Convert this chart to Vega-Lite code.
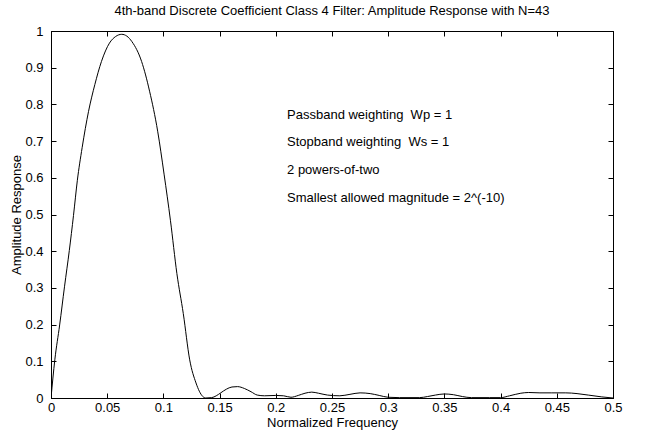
{
  "$schema": "https://vega.github.io/schema/vega-lite/v6.json",
  "autosize": {"type": "none"},
  "padding": {"left": 51, "top": 31, "right": 50, "bottom": 34},
  "width": 562,
  "height": 367,
  "background": "white",
  "config": {
    "font": "Liberation Sans",
    "view": {"stroke": "black", "strokeWidth": 1},
    "axis": {"grid": false, "domainColor": "black", "tickColor": "black", "labelColor": "black", "titleColor": "black", "labelFont": "Liberation Sans", "titleFont": "Liberation Sans", "labelFontSize": 13, "titleFontSize": 13, "titleFontWeight": "normal", "tickSize": -5, "domainWidth": 1, "tickWidth": 1}
  },
  "title": {"text": "4th-band Discrete Coefficient Class 4 Filter: Amplitude Response with N=43", "fontSize": 13, "fontWeight": "normal", "font": "Liberation Sans", "color": "black", "baseline": "alphabetic", "offset": 14, "dy": 17},
  "datasets": {
    "curve": [
      {"f":0,"a":0},{"f":0.0034,"a":0.104},{"f":0.0077,"a":0.199},{"f":0.012,"a":0.303},{"f":0.0163,"a":0.402},{"f":0.02,"a":0.497},{"f":0.0234,"a":0.592},{"f":0.0277,"a":0.682},{"f":0.0334,"a":0.781},{"f":0.039,"a":0.854},{"f":0.0449,"a":0.917},{"f":0.052,"a":0.967},{"f":0.0575,"a":0.985},{"f":0.0629,"a":0.991},{"f":0.0675,"a":0.986},{"f":0.072,"a":0.971},{"f":0.0806,"a":0.917},{"f":0.0877,"a":0.836},{"f":0.0949,"a":0.727},{"f":0.1006,"a":0.61},{"f":0.1063,"a":0.483},{"f":0.112,"a":0.339},{"f":0.1177,"a":0.23},{"f":0.1234,"a":0.104},{"f":0.129,"a":0.041},{"f":0.1349,"a":0.0045},{"f":0.1377,"a":0},{"f":0.143,"a":0.001},{"f":0.147,"a":0.006},{"f":0.151,"a":0.014},{"f":0.156,"a":0.024},{"f":0.161,"a":0.03},{"f":0.166,"a":0.031},{"f":0.172,"a":0.026},{"f":0.178,"a":0.017},{"f":0.1835,"a":0.008},{"f":0.19,"a":0.006},{"f":0.2,"a":0.007},{"f":0.207,"a":0.006},{"f":0.2135,"a":0.002},{"f":0.22,"a":0.007},{"f":0.226,"a":0.013},{"f":0.232,"a":0.016},{"f":0.238,"a":0.013},{"f":0.246,"a":0.008},{"f":0.257,"a":0.006},{"f":0.266,"a":0.01},{"f":0.275,"a":0.014},{"f":0.284,"a":0.012},{"f":0.292,"a":0.007},{"f":0.3,"a":0.002},{"f":0.31,"a":0.001},{"f":0.328,"a":0.001},{"f":0.335,"a":0.004},{"f":0.342,"a":0.008},{"f":0.35,"a":0.011},{"f":0.358,"a":0.009},{"f":0.366,"a":0.004},{"f":0.374,"a":0.001},{"f":0.39,"a":0.001},{"f":0.4,"a":0.001},{"f":0.408,"a":0.006},{"f":0.418,"a":0.013},{"f":0.425,"a":0.015},{"f":0.435,"a":0.014},{"f":0.445,"a":0.014},{"f":0.458,"a":0.014},{"f":0.468,"a":0.012},{"f":0.478,"a":0.008},{"f":0.49,"a":0.003},{"f":0.5,"a":0}
    ],
    "notes": [
      {"f":0.21,"a":0.771,"label":"Passband weighting\u00a0 Wp = 1"},
      {"f":0.21,"a":0.698,"label":"Stopband weighting\u00a0 Ws = 1"},
      {"f":0.21,"a":0.621,"label":"2 powers-of-two"},
      {"f":0.21,"a":0.545,"label":"Smallest allowed magnitude = 2^(-10)"}
    ]
  },
  "layer": [
    {
      "data": {"name": "curve"},
      "mark": {"type": "line", "color": "black", "strokeWidth": 1, "interpolate": "monotone", "clip": true},
      "encoding": {
        "x": {"field": "f", "type": "quantitative", "scale": {"domain": [0, 0.5], "nice": false, "zero": false},
              "axis": {"orient": "bottom", "title": "Normalized Frequency", "values": [0,0.05,0.1,0.15,0.2,0.25,0.3,0.35,0.4,0.45,0.5], "format": ".2~f", "labelPadding": 8, "titlePadding": 2, "labelFlush": false, "labelOverlap": false}},
        "y": {"field": "a", "type": "quantitative", "scale": {"domain": [0, 1], "nice": false},
              "axis": {"orient": "left", "title": "Amplitude Response", "values": [0,0.1,0.2,0.3,0.4,0.5,0.6,0.7,0.8,0.9,1], "format": ".1~f", "labelPadding": 13, "titlePadding": 1, "labelFlush": false, "labelOverlap": false}}
      }
    },
    {
      "data": {"name": "curve"},
      "mark": {"type": "line", "opacity": 0},
      "encoding": {
        "x": {"field": "f", "type": "quantitative", "axis": {"orient": "top", "title": null, "labels": false, "values": [0,0.05,0.1,0.15,0.2,0.25,0.3,0.35,0.4,0.45,0.5]}},
        "y": {"field": "a", "type": "quantitative", "axis": {"orient": "right", "title": null, "labels": false, "values": [0,0.1,0.2,0.3,0.4,0.5,0.6,0.7,0.8,0.9,1]}}
      }
    },
    {
      "data": {"name": "notes"},
      "mark": {"type": "text", "align": "left", "baseline": "middle", "fontSize": 13, "font": "Liberation Sans", "color": "black"},
      "encoding": {
        "x": {"field": "f", "type": "quantitative", "axis": null},
        "y": {"field": "a", "type": "quantitative", "axis": null},
        "text": {"field": "label"}
      }
    }
  ],
  "resolve": {"axis": {"x": "independent", "y": "independent"}}
}
